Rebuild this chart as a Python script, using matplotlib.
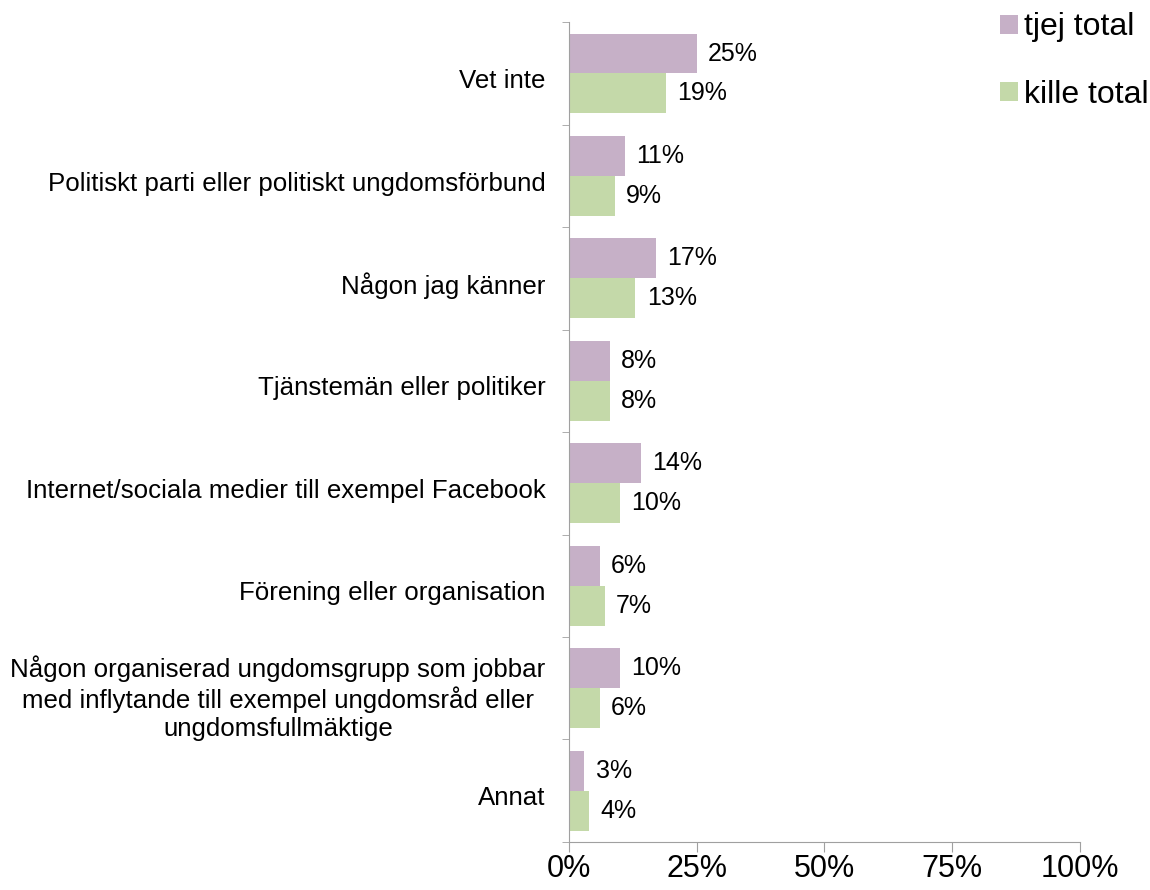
import matplotlib
matplotlib.use('Agg')
import numpy as np
import matplotlib.pyplot as plt

categories = ['Vet inte',
              'Politiskt parti eller politiskt ungdomsförbund',
              'Någon jag känner',
              'Tjänstemän eller politiker',
              'Internet/sociala medier till exempel Facebook',
              'Förening eller organisation',
              'Någon organiserad ungdomsgrupp som jobbar\nmed inflytande till exempel ungdomsråd eller\nungdomsfullmäktige',
              'Annat']
tjej = [25, 11, 17, 8, 14, 6, 10, 3]
kille = [19, 9, 13, 8, 10, 7, 6, 4]
xticks = [0, 25, 50, 75, 100]

plt.rcParams['font.family'] = ['Liberation Sans', 'DejaVu Sans']

fig = plt.figure(figsize=(11.5, 8.9), dpi=100)
ax = fig.add_axes([0.4948, 0.054, 0.4443, 0.921])

pink = '#C6B0C7'
green = '#C4D9A9'
grey = '#A0A0A0'

y = np.arange(len(categories))
h = 0.39
ax.barh(y - h/2, tjej, height=h, color=pink, label='tjej total')
ax.barh(y + h/2, kille, height=h, color=green, label='kille total')

for i in range(len(categories)):
    ax.text(tjej[i] + 2.2, y[i] - h/2, '%d%%' % tjej[i], va='center', ha='left', fontsize=18)
    ax.text(kille[i] + 2.2, y[i] + h/2, '%d%%' % kille[i], va='center', ha='left', fontsize=18)

ax.set_xlim(0, 100)
ax.set_ylim(len(categories) - 0.5, -0.5)
ax.set_xticks(xticks)
ax.set_xticklabels(['%d%%' % v for v in xticks], fontsize=22)
ax.set_yticks(y + 0.05)
ax.set_yticklabels(categories, fontsize=18.6, ha='right', multialignment='center')
ax.tick_params(axis='y', which='major', length=0, pad=17)
ax.set_yticks(np.arange(len(categories) + 1) - 0.5, minor=True)
ax.tick_params(axis='y', which='minor', length=5, color=grey, direction='out')
ax.tick_params(axis='x', length=7, color=grey, direction='out', pad=2)

for s in ['top', 'right']:
    ax.spines[s].set_visible(False)
ax.spines['left'].set_color(grey)
ax.spines['bottom'].set_color(grey)

h1, l1 = ax.get_legend_handles_labels()
fig.legend(h1, l1, loc='upper left', bbox_to_anchor=(0.8696, 0.986), frameon=False,
           fontsize=23, handlelength=0.55, handleheight=0.55, handletextpad=0.2,
           labelspacing=1.17, borderpad=0, borderaxespad=0)

plt.savefig('out.png')
plt.close()
